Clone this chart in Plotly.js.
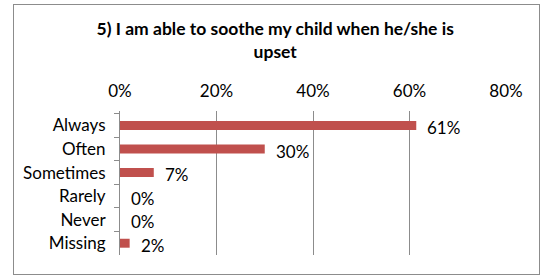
<!DOCTYPE html>
<html><head><meta charset="utf-8">
<script src="https://cdn.plot.ly/plotly-3.0.1.min.js"></script>
<style>
html,body{margin:0;padding:0;background:#fff;}
#frame{position:absolute;left:13px;top:4px;width:525px;height:269px;border:1px solid #8c8c8c;}
#chart{position:absolute;left:0;top:0;width:545px;height:278px;}
</style></head>
<body>
<div id="frame"></div>
<div id="chart"></div>
<script>
var categories = ["Always","Often","Sometimes","Rarely","Never","Missing"];
var values = [61.4, 30, 7, 0, 0, 2];
var labels = ["61%","30%","7%","0%","0%","2%"];
var tickVals = [0,20,40,60,80];
var tickText = ["0%","20%","40%","60%","80%"];

var font = "Lato, 'Liberation Sans', sans-serif";
var trace = {
  type:"bar", orientation:"h",
  x: values, y: categories,
  marker:{color:"#C0504D"},
  hoverinfo:"none"
};
var annotations = categories.map(function(c,i){
  return {x: values[i], y: c, xref:"x", yref:"y", text: labels[i],
    showarrow:false, xanchor:"left", xshift:9, yshift:-2,
    font:{family:font, size:17, color:"#000"}};
});
var layout = {
  width:545, height:278,
  margin:{l:120, r:39, t:111, b:23, pad:0},
  paper_bgcolor:"rgba(0,0,0,0)", plot_bgcolor:"rgba(0,0,0,0)",
  showlegend:false,
  bargap:0.62,
  title:{text:"<b>5) I am able to soothe my child when he/she is<br>upset</b>",
    x:0.505, xanchor:"center", xref:"container", yref:"container", y:0.874, yanchor:"middle",
    font:{family:font, size:17.5, color:"#000", weight:"bold"}},
  xaxis:{side:"top", range:[0,80], tickvals:tickVals, ticktext:tickText,
    showgrid:true, gridcolor:"#8c8c8c", gridwidth:1, zeroline:false,
    showline:false, ticks:"", ticklen:0, ticklabelstandoff:10,
    tickfont:{family:font, size:17, color:"#000"}},
  yaxis:{autorange:"reversed", categoryorder:"array", categoryarray:categories,
    showline:true, linecolor:"#8c8c8c", linewidth:1,
    ticks:"outside", tickson:"boundaries", ticklen:5, tickcolor:"#8c8c8c",
    ticklabelstandoff:10,
    showgrid:false, zeroline:false,
    tickfont:{family:font, size:17, color:"#000"}},
  annotations: annotations
};
Plotly.newPlot("chart",[trace],layout,{staticPlot:true, displayModeBar:false});
</script>
</body></html>
